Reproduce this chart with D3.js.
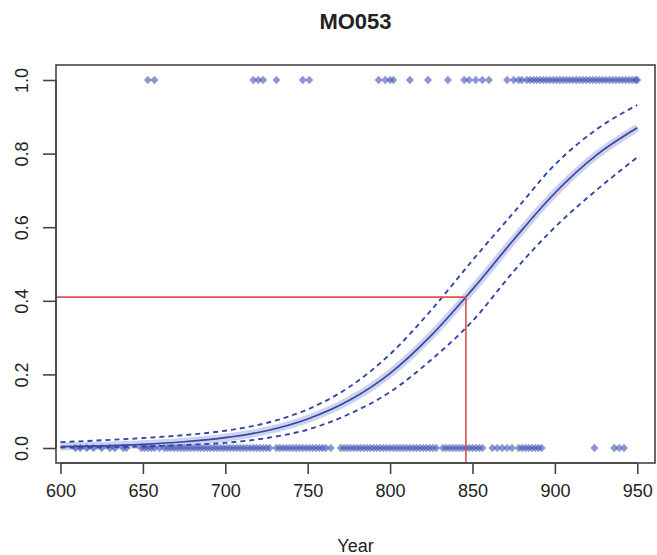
<!DOCTYPE html>
<html><head><meta charset="utf-8">
<script src="https://cdn.jsdelivr.net/npm/d3@7"></script>
<style>body{margin:0;background:#fff}svg{display:block}text{font-family:"Liberation Sans",Arial,sans-serif;fill:#222}</style>
</head><body>
<svg id="c" width="657" height="555"></svg>
<script>
const title = "MO053";
const xLabel = "Year";
const xTicks = [600, 650, 700, 750, 800, 850, 900, 950];
const yTicks = [0, 0.2, 0.4, 0.6, 0.8, 1.0];
// observed events (y = 1)
const yearsOne = [653, 657, 717, 720, 723, 731, 747, 751, 793, 797, 800, 802, 812, 823, 835, 845, 848, 852, 856, 860, 871, 875, 878, 880, 883, 885, 887, 889, 891, 893, 895, 897, 899, 901, 903, 905, 907, 909, 911, 913, 915, 917, 919, 921, 923, 925, 927, 929, 931, 933, 935, 937, 939, 941, 943, 945, 947, 949, 950];
// observed non-events (y = 0)
const yearsZero = [609, 612, 616, 620, 625, 630, 633, 638, 640, 649, 651, 653, 655, 657, 660, 663, 665, 667, 669, 671, 673, 675, 677, 679, 681, 683, 685, 687, 689, 691, 693, 695, 697, 699, 701, 703, 705, 707, 709, 711, 713, 715, 717, 719, 721, 723, 725, 727, 731, 733, 735, 737, 739, 741, 743, 745, 747, 749, 751, 753, 755, 757, 759, 761, 764, 770, 772, 774, 776, 778, 780, 782, 784, 786, 788, 790, 792, 794, 796, 798, 800, 802, 804, 806, 808, 810, 812, 814, 816, 818, 820, 822, 824, 826, 828, 832, 834, 836, 838, 840, 842, 844, 846, 848, 850, 852, 854, 856, 862, 865, 868, 871, 874, 878, 880, 882, 884, 886, 888, 890, 892, 924, 936, 939, 942];
// fitted curve and confidence bounds, read at sample years
const curveYears = [600, 625, 650, 675, 700, 725, 750, 775, 800, 825, 850, 875, 900, 925, 950];
const fitVals   = [0.004, 0.006, 0.010, 0.017, 0.028, 0.047, 0.079, 0.129, 0.203, 0.306, 0.431, 0.566, 0.693, 0.795, 0.870];
const upperVals = [0.016, 0.021, 0.027, 0.035, 0.047, 0.068, 0.105, 0.165, 0.255, 0.375, 0.51, 0.64, 0.77, 0.865, 0.932];
const lowerVals = [0.001, 0.002, 0.004, 0.008, 0.014, 0.027, 0.050, 0.092, 0.152, 0.240, 0.345, 0.48, 0.60, 0.70, 0.790];
// reference marker
const refYear = 846;
const refProb = 0.41;

const svg = d3.select("#c");
const box = {l: 56, r: 655, t: 65, b: 463};
const x = d3.scaleLinear().domain([600, 950]).range([60.5, 637.3]);
const y = d3.scaleLinear().domain([0, 1]).range([448, 80]);

const blue = "#3446a6";

const curveData = curveYears.map((yr, i) => ({yr, f: fitVals[i], u: upperVals[i], lo: lowerVals[i]}));
const line = key => d3.line().x(d => x(d.yr)).y(d => y(d[key])).curve(d3.curveMonotoneX);

svg.append("path").datum(curveData).attr("d", line("f"))
  .attr("fill", "none").attr("stroke", "#c6caea").attr("stroke-width", 8).attr("opacity", 0.85);

// points
const diamond = d3.symbol().type(d3.symbolDiamond).size(30);
function drawPts(arr, val) {
  svg.append("g").selectAll("path").data(arr).join("path")
    .attr("d", diamond)
    .attr("transform", d => `translate(${x(d)},${y(val)}) scale(1.35,0.85)`)
    .attr("fill", "rgba(66,82,180,0.6)");
}
drawPts(yearsOne, 1);
drawPts(yearsZero, 0);

svg.append("path").datum(curveData).attr("d", line("f"))
  .attr("fill", "none").attr("stroke", blue).attr("stroke-width", 1.7);
["u", "lo"].forEach(k => {
  svg.append("path").datum(curveData).attr("d", line(k))
    .attr("fill", "none").attr("stroke", blue).attr("stroke-width", 1.9)
    .attr("stroke-dasharray", "5,4");
});

// red reference lines
svg.append("line").attr("x1", box.l).attr("x2", x(refYear)).attr("y1", y(refProb)).attr("y2", y(refProb))
  .attr("stroke", "#d9534f").attr("stroke-width", 1.6);
svg.append("line").attr("x1", x(refYear)).attr("x2", x(refYear)).attr("y1", y(refProb)).attr("y2", box.b)
  .attr("stroke", "#d9534f").attr("stroke-width", 1.6);

// box
svg.append("rect").attr("x", box.l).attr("y", box.t).attr("width", box.r - box.l).attr("height", box.b - box.t)
  .attr("fill", "none").attr("stroke", "#444").attr("stroke-width", 1.6);

const ff = '"Liberation Sans",Arial,sans-serif';
// x axis
const xa = svg.append("g").attr("transform", `translate(0,${box.b})`)
  .call(d3.axisBottom(x).tickValues(xTicks).tickSize(11).tickPadding(10).tickFormat(d3.format("d")));
xa.select(".domain").attr("stroke", "#444").attr("stroke-width", 1.6).attr("d", `M${x(600)},0H${x(950)}`);
xa.selectAll(".tick line").attr("stroke", "#444").attr("stroke-width", 1.6);
xa.selectAll("text").attr("font-size", 18).attr("fill", "#222").attr("font-family", ff);

// y axis
const ya = svg.append("g").attr("transform", `translate(${box.l},0)`)
  .call(d3.axisLeft(y).tickValues(yTicks).tickSize(13).tickFormat(d3.format(".1f")));
ya.select(".domain").attr("stroke", "#444").attr("stroke-width", 1.6).attr("d", `M0,${y(0)}V${y(1)}`);
ya.selectAll(".tick line").attr("stroke", "#444").attr("stroke-width", 1.6);
ya.selectAll("text").attr("font-size", 18).attr("fill", "#222").attr("font-family", ff)
  .attr("text-anchor", "middle").attr("x", null)
  .attr("transform", "translate(-34,0) rotate(-90)").attr("dy", "0.35em");

// title and label
svg.append("text").attr("x", (box.l + box.r) / 2).attr("y", 29).attr("text-anchor", "middle")
  .attr("font-size", 22).attr("font-weight", "bold").text(title);
svg.append("text").attr("x", (box.l + box.r) / 2).attr("y", 552).attr("text-anchor", "middle")
  .attr("font-size", 18).text(xLabel);
</script>
</body></html>
